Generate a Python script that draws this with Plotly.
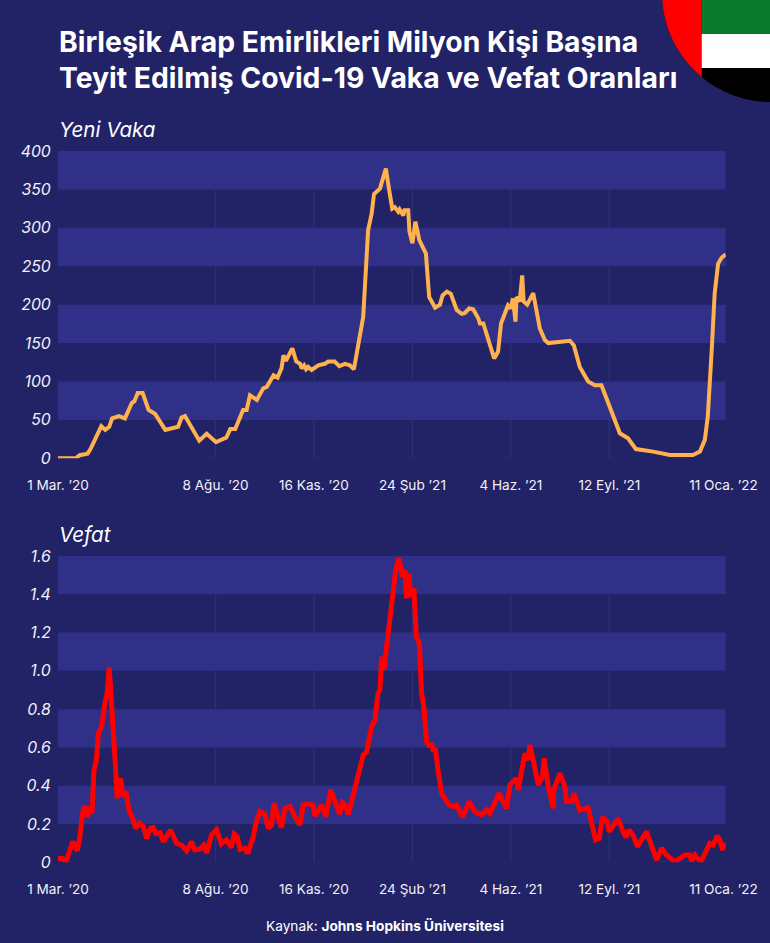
import numpy as np
import pandas as pd
import plotly.graph_objects as go

W, H = 770, 943
START = pd.Timestamp("2020-03-01")

case_days = [0,18,22,30,33,44,48,52,55,62,68,75,77.5,81,86,92,98.5,109,122,125.5,129,143.5,151,160.5,171,175,180,188,191.6,195,202,208.5,212,219,223,227,229,231.5,238,242,246,247.5,250,252,254,257.6,264.4,271,274.5,281,285.7,291.5,296.5,300.6,310,315,318.5,321,327,333,336.4,339.5,342,345.6,347,350.7,352,355.7,357,360,363,367,373.7,377,383,388,390.6,395,399,405,410,413,417.7,421.7,427,428.5,432,437,443,447,450,457,459.7,462,464.7,465.7,469,471.5,473,476.6,482.7,489.4,494.5,498,520,524,530,538.5,545.3,552,558.8,570.7,579,587,604.5,621.5,645,652,657,660,664,667,670.5,674,678.3]
case_values = [0,0,4,6,12,42,37,41,52,55,52,72,74,85,85,63,58,37,41,53,55,23,32,21,27,38,38,63,63,82,76,91,93,108,105,117,134,127,143,126,123,117,121,116,119,115,121,123,126,126,120,123,121,116,184,297,318,344,351,377,349,325,327,321,324,316,323,323,295,280,308,284,266.5,210,196,200,212,217,214,193,188,189,195,194,182,175.5,175.5,156,130,139,175.5,199,195,208,178,210,204,238,204,200,215,169,154,150,153,147,119,100,95,95,71.5,32.5,26,12,8.7,4.3,4.3,8.7,24,54,141,214.5,253.5,261,265.6]

death_days = [0,4.7,8,12,15,17,19.6,22,25,27.4,30,32.5,34.5,36.6,39,41,44.3,47.7,50,52,54.5,58,60,63.6,66,69,72.4,74.8,79,83,86.7,90,94,96.8,99.5,103.6,107,114.4,120.5,125.6,130.7,135.7,139,144,148,151,156,161,166,171,176,179,182,185,190,192.6,198,201,205,210,213.6,217,219.4,222.7,227,230.5,235.6,240.7,245.8,249,254,259,261,267.8,272,277,281,286,289,291.5,295,300,305,310,313.5,318.5,322,325,327,328.7,331,334,337,340,343,346.3,349.6,352.3,354,356.4,358.4,361.5,364,367,369.3,371.6,374.4,377.7,379.4,381,383.5,386,389.6,394,397.4,401.4,404.8,411,417.7,423.4,430,435,438.7,448,455.6,459,465.8,467.4,474.2,477.6,479.3,482.7,487.8,492,493.8,498,503,503.6,509.8,514.8,516.5,521.6,524,530,538.5,546,549.7,553,557.8,559.9,569,574,577,580,584,588.6,597.8,608,613,618,626.5,636.7,641.8,643.5,647,653,658.7,662,665.5,669.5,672.2,675,676.3,678.3]
death_values = [.02,.02,0,.055,.108,.09,.06,.125,.256,.294,.238,.29,.256,.482,.534,.674,.709,.83,.883,1.018,.848,.534,.334,.439,.343,.369,.265,.247,.178,.204,.186,.125,.178,.181,.151,.155,.108,.169,.099,.09,.06,.108,.064,.068,.09,.05,.143,.169,.096,.117,.078,.148,.134,.068,.073,.047,.125,.204,.265,.252,.178,.195,.308,.256,.181,.282,.291,.238,.195,.299,.305,.299,.242,.299,.238,.378,.326,.252,.312,.3,.252,.36,.474,.56,.578,.709,.743,.883,.9,1.074,1.005,1.135,1.213,1.37,1.527,1.588,1.492,1.527,1.379,1.509,1.387,1.431,1.179,1.144,.883,.813,.63,.604,.622,.587,.587,.482,.36,.326,.299,.291,.299,.238,.317,.265,.247,.273,.256,.36,.282,.404,.439,.378,.569,.534,.613,.534,.404,.447,.543,.395,.282,.378,.465,.395,.317,.317,.36,.273,.285,.117,.125,.235,.212,.16,.23,.16,.13,.169,.143,.082,.16,.012,.073,.038,.003,.038,.038,.007,.038,0,.064,.099,.09,.138,.117,.064,.099,.073]

x_tick_dates = ["2020-03-01","2020-08-08","2020-11-16","2021-02-24","2021-06-04","2021-09-12","2022-01-06"]
x_tick_labels = ["1 Mar. ’20","8 Ağu. ’20","16 Kas. ’20","24 Şub ’21","4 Haz. ’21","12 Eyl. ’21","11 Oca. ’22"]
grid_dates = ["2020-08-08","2020-11-16","2021-02-24","2021-06-04","2021-09-12"]

case_ticks = [0,50,100,150,200,250,300,350,400]
case_tick_labels = ["0","50","100","150","200","250","300","350","400"]
case_bands = [(50,100),(150,200),(250,300),(350,400)]
death_ticks = [0,.2,.4,.6,.8,1.0,1.2,1.4,1.6]
death_tick_labels = ["0","0.2","0.4","0.6","0.8","1.0","1.2","1.4","1.6"]
death_bands = [(.2,.4),(.6,.8),(1.0,1.2),(1.4,1.6)]

BG = "#222266"
BAND = "#313088"
GRID = "#2e2e78"
FONT = "Inter"
END_DAY = 678.3

def to_dates(days):
    return [START + pd.Timedelta(hours=float(d) * 24) for d in days]

def px(x): return x / W
def py(y): return 1 - y / H

X_END = START + pd.Timedelta(hours=END_DAY * 24)
fig = go.Figure()
fig.add_trace(go.Scatter(x=to_dates(case_days), y=case_values, mode="lines", xaxis="x", yaxis="y",
                         line=dict(color="#FFB14E", width=4), cliponaxis=False, showlegend=False))
fig.add_trace(go.Scatter(x=to_dates(death_days), y=death_values, mode="lines", xaxis="x2", yaxis="y2",
                         line=dict(color="#FF0000", width=5), cliponaxis=False, showlegend=False))

xcommon = dict(type="date", range=[START, X_END], tickmode="array", ticktext=x_tick_labels, tickvals=x_tick_dates,
               showgrid=False, zeroline=False, ticks="outside", ticklen=14, tickcolor="rgba(0,0,0,0)",
               tickfont=dict(family=FONT, size=13.6, color="#F2F2F8"), showline=False, tickangle=0)
ycommon = dict(tickmode="array", showgrid=False, zeroline=False, ticks="outside", ticklen=3,
               tickcolor="rgba(0,0,0,0)", tickfont=dict(family=FONT, size=15.8, color="#F2F2F8", style="italic"))

shapes = []
def add_panel(xref, yref, bands, zero):
    for lo, hi in bands:
        shapes.append(dict(type="rect", xref=xref, yref=yref, x0=START, x1=X_END, y0=lo, y1=hi,
                           fillcolor=BAND, line_width=0, layer="below"))
    lows = [0] + [b[1] for b in bands[:-1]]
    highs = [b[0] for b in bands]
    for d in grid_dates:
        for lo, hi in zip(lows, highs):
            shapes.append(dict(type="line", xref=xref, yref=yref, x0=d, x1=d, y0=lo, y1=hi,
                               line=dict(color=GRID, width=1.4), layer="below"))
    shapes.append(dict(type="line", xref=xref, yref=yref, x0=START, x1=X_END, y0=zero, y1=zero,
                       line=dict(color=GRID, width=1.2), layer="below"))

add_panel("x", "y", case_bands, 0)
add_panel("x2", "y2", death_bands, 0)

# flag badge
CX, CY, R, SPLIT, S1, S2 = 771, -7, 109, 701.7, 34, 68
def poly(pts):
    return "M " + " L ".join(f"{px(a):.5f},{py(b):.5f}" for a, b in pts) + " Z"
t = np.linspace(0, 2 * np.pi, 200)
disk = [(CX + R * np.cos(a), CY + R * np.sin(a)) for a in t]
shapes.append(dict(type="path", xref="paper", yref="paper", path=poly(disk), fillcolor="#000000", line_width=0, layer="above"))
ys = np.linspace(-30, 78, 60)
left = [(CX - np.sqrt(max(R**2 - (yy - CY)**2, 0)), yy) for yy in ys]
shapes.append(dict(type="path", xref="paper", yref="paper",
                   path=poly(left + [(SPLIT, 78), (SPLIT, -30)]), fillcolor="#FF0000", line_width=0, layer="above"))
shapes.append(dict(type="rect", xref="paper", yref="paper", x0=px(SPLIT), x1=px(W + 5), y0=py(-5), y1=py(S1),
                   fillcolor="#0A7A2C", line_width=0, layer="above"))
shapes.append(dict(type="rect", xref="paper", yref="paper", x0=px(SPLIT), x1=px(W + 5), y0=py(S1), y1=py(S2),
                   fillcolor="#FFFFFF", line_width=0, layer="above"))

def note(x, y, text, size, anchor="left", **font):
    return dict(xref="paper", yref="paper", x=px(x), y=py(y), text=text, showarrow=False, xanchor=anchor, yanchor="middle",
                align="left", font=dict(family=FONT, size=size, color=font.pop("color", "#FFFFFF"), **font))

annotations = [
    note(57, 42, "<b>Birleşik Arap Emirlikleri Milyon Kişi Başına</b>", 28.3),
    note(57, 78.5, "<b>Teyit Edilmiş Covid-19 Vaka ve Vefat Oranları</b>", 28.3),
    note(57, 129, "Yeni Vaka", 20.6, style="italic"),
    note(57, 534, "Vefat", 20.6, style="italic"),
    note(385, 926, "Kaynak: <b>Johns Hopkins Üniversitesi</b>", 13.7, anchor="center"),
]

fig.update_layout(
    width=W, height=H, margin=dict(l=0, r=0, t=0, b=0, autoexpand=False),
    paper_bgcolor=BG, plot_bgcolor=BG, showlegend=False, shapes=shapes, annotations=annotations,
    hovermode=False,
    xaxis=dict(domain=[px(58), px(725.8)], anchor="y", **xcommon),
    yaxis=dict(domain=[py(458.3), py(151)], range=[0, 400], anchor="x", tickvals=case_ticks, ticktext=case_tick_labels, **ycommon),
    xaxis2=dict(domain=[px(58), px(725.8)], anchor="y2", **xcommon),
    yaxis2=dict(domain=[py(862.3), py(556)], range=[0, 1.6], anchor="x2", tickvals=death_ticks, ticktext=death_tick_labels, **ycommon),
)
fig.write_html("out.html", config=dict(displayModeBar=False), post_script="document.body.style.margin='0';document.documentElement.style.overflow='hidden';")
